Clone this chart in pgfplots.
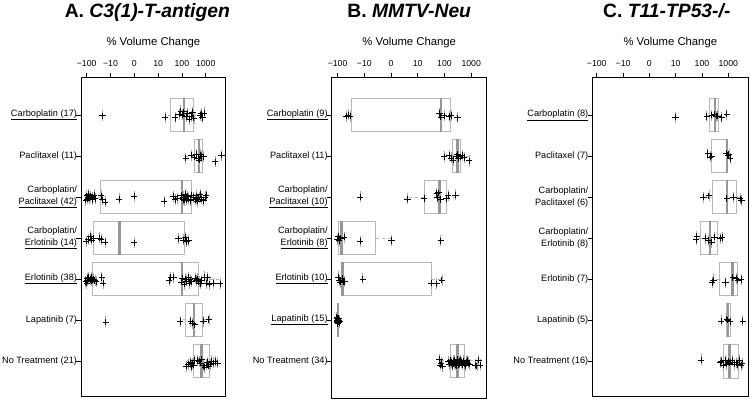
\documentclass[border=0pt]{standalone}
\usepackage{fontspec}
\setmainfont{Liberation Sans}
\usepackage{pgfplots}
\pgfplotsset{compat=1.18}
\usepackage{pgfplotstable}
\usepgfplotslibrary{statistics}
\definecolor{boxgray}{RGB}{185,185,185}
\definecolor{medgray}{RGB}{150,150,150}
\definecolor{jitgray}{RGB}{165,165,165}

\pgfplotstableread{
x y
-1.33 1.02
1.29 1.05
1.71 1.06
1.89 0.98
1.95 0.90
2.00 1.00
2.07 0.92
2.17 1.04
2.24 0.96
2.31 1.10
2.38 1.03
2.45 0.94
2.50 1.08
2.76 1.01
2.80 0.97
2.86 1.06
2.93 0.95
2.16 2.05
2.41 1.98
2.52 2.03
2.62 1.96
2.68 2.06
2.72 2.10
2.76 1.97
2.80 2.01
2.90 2.02
3.39 2.14
3.67 1.98
-2.04 3.08
-2.00 2.97
-1.97 3.05
-1.95 3.00
-1.93 2.93
-1.89 3.03
-1.83 2.98
-1.78 3.06
-1.75 3.01
-1.69 2.95
-1.65 3.04
-1.40 2.97
-1.33 3.07
-1.23 3.12
-0.64 3.05
-0.01 2.98
1.26 3.10
1.64 2.99
1.71 3.06
1.81 3.03
1.99 2.96
2.04 3.06
2.07 3.00
2.10 3.08
2.14 2.94
2.17 3.03
2.20 3.07
2.24 2.98
2.28 3.05
2.35 3.09
2.41 2.95
2.48 3.01
2.55 3.07
2.59 2.97
2.62 3.04
2.65 3.10
2.71 3.02
2.76 2.94
2.83 3.05
2.90 3.09
2.97 3.00
3.01 2.96
-2.03 4.08
-1.93 4.04
-1.86 3.97
-1.79 4.05
-1.72 4.01
-1.47 4.00
-1.40 4.04
-1.23 4.10
-0.01 4.12
1.85 4.02
2.06 4.05
2.13 3.99
2.20 4.09
2.27 4.06
-2.04 5.06
-2.00 5.10
-1.98 4.98
-1.96 5.03
-1.92 4.96
-1.86 5.01
-1.82 5.05
-1.80 4.97
-1.76 5.02
-1.72 5.00
-1.66 5.04
-1.61 5.07
-1.37 4.97
-1.32 5.10
1.46 5.04
1.53 4.97
1.64 4.96
1.99 5.08
2.03 4.98
2.09 5.13
2.14 5.00
2.20 5.05
2.27 4.97
2.30 5.10
2.34 5.02
2.41 5.07
2.55 4.98
2.59 5.04
2.65 5.00
2.71 5.06
2.76 5.12
2.82 5.03
2.93 4.95
3.01 5.10
3.07 4.97
3.15 5.13
3.32 5.10
3.60 5.12
-1.20 6.05
1.92 6.04
2.37 6.03
2.44 6.08
2.54 6.12
2.90 6.03
3.13 5.99
2.20 7.13
2.27 7.08
2.34 7.03
2.38 7.14
2.42 7.06
2.48 7.10
2.52 6.99
2.65 6.98
2.72 7.01
2.76 7.05
2.83 6.96
2.90 7.12
2.96 7.15
3.01 7.10
3.07 7.04
3.13 7.13
3.18 7.08
3.25 7.00
3.32 7.05
3.39 7.02
3.49 7.05
}\dataA

\pgfplotstableread{
x y
-1.66 1.03
-1.60 1.00
-1.54 1.03
1.81 0.97
1.86 1.05
1.98 1.02
2.17 1.04
2.24 1.01
2.48 1.07
1.98 2.02
2.17 1.98
2.24 2.05
2.33 2.10
2.43 2.00
2.48 1.97
2.53 2.06
2.58 2.02
2.66 1.99
2.74 2.04
2.92 2.12
-1.16 3.00
0.61 3.05
1.24 3.04
1.71 2.92
1.74 3.02
1.78 2.90
1.86 3.06
2.08 3.04
2.14 2.96
2.42 2.95
-2.01 4.03
-1.98 3.97
-1.94 4.06
-1.89 4.00
-1.76 3.98
-1.16 4.08
0.02 4.06
1.86 4.07
-1.98 4.95
-1.94 5.04
-1.89 5.08
-1.84 4.98
-1.79 5.06
-1.73 5.07
-1.06 5.00
1.52 5.10
1.71 5.12
1.90 5.03
-2.03 5.94
-2.02 6.02
-2.01 6.07
-2.00 5.97
-2.00 6.04
-1.99 6.00
-1.99 6.09
-1.98 5.99
-1.98 6.05
-1.97 6.03
-1.97 5.96
-1.96 6.01
-1.95 6.06
-1.94 6.02
-1.93 6.04
1.81 6.97
1.84 7.10
1.88 7.05
1.93 7.13
2.13 7.02
2.18 7.08
2.21 6.99
2.25 7.04
2.28 7.11
2.32 7.00
2.35 7.06
2.38 6.98
2.41 7.09
2.44 7.03
2.46 7.12
2.47 6.97
2.49 7.05
2.51 7.10
2.54 7.01
2.57 7.07
2.60 6.98
2.63 7.04
2.66 7.09
2.70 7.00
2.73 7.06
2.77 7.11
2.80 7.02
2.84 6.99
2.88 7.05
2.93 7.08
3.15 7.10
3.21 7.12
3.28 6.98
3.33 7.10
}\dataB

\pgfplotstableread{
x y
1.00 1.05
2.18 1.04
2.37 1.00
2.47 0.98
2.54 1.03
2.59 1.02
2.75 1.06
2.94 0.98
2.22 1.94
2.31 2.02
2.37 2.00
2.92 1.93
2.98 1.98
3.02 1.96
3.07 2.06
2.05 3.00
2.26 2.97
2.94 3.03
3.19 3.00
3.45 3.04
3.50 3.08
1.78 4.04
1.80 3.96
2.12 4.00
2.24 4.06
2.37 4.10
2.47 3.98
2.69 4.00
2.76 3.99
2.38 5.08
2.43 5.02
2.89 5.08
3.17 4.96
3.30 4.98
3.36 5.02
3.48 5.01
2.73 6.02
2.94 5.97
2.98 6.00
3.07 6.03
3.55 6.02
1.97 6.97
2.69 7.04
2.73 7.00
2.81 7.10
2.89 6.98
2.94 7.07
2.99 7.00
3.04 7.05
3.09 7.02
3.14 6.98
3.22 7.07
3.30 7.04
3.35 7.08
3.42 6.97
3.48 7.10
3.53 7.05
}\dataC

\newcommand{\bx}[6]{\addplot[boxplot prepared={lower whisker=#1, lower quartile=#2, median=#3, upper quartile=#4, upper whisker=#5, draw position=#6}] coordinates {};}

\pgfplotsset{
  panel/.style={
    scale only axis,
    y dir=reverse,
    ymin=0.08,
    xtick={-2,-1,0,1,2,3},
    xticklabels={−100,−10,0,10,100,1000},
    xtick pos=right, xticklabel pos=right,
    ytick={1,2,3,4,5,6,7},
    ytick pos=left, yticklabel pos=left,
    tick align=outside,
    major tick length=4.5pt,
    tick style={black, line width=0.6pt},
    axis line style={black, line width=0.9pt},
    xticklabel style={font=\fontsize{8.7}{10}\selectfont, yshift=3pt},
    yticklabel style={font=\fontsize{9.2}{11.5}\selectfont, align=right, xshift=4pt},
    xlabel={\% Volume Change},
    xlabel style={font=\fontsize{11.3}{13}\selectfont, at={(0.5,1)}, anchor=base, yshift=32pt},
    title style={font=\fontsize{19.3}{21}\selectfont\bfseries, at={(0.5,1)}, anchor=base, yshift=54pt},
    boxplot/draw direction=x,
    boxplot/box extend=0.82,
    boxplot/whisker extend=0,
    boxplot/every box/.style={draw=boxgray, line width=0.9pt},
    boxplot/every median/.style={draw=medgray, line width=2.4pt},
    boxplot/every whisker/.style={draw=boxgray, dashed, line width=0.8pt},
  },
  jit/.style={only marks, mark=|, mark size=5.5pt, draw=jitgray, mark options={line width=0.6pt}},
  pts/.style={only marks, mark=+, mark size=3.2pt, draw=black, mark options={line width=0.7pt}},
}

\begin{document}
\begin{tikzpicture}
\useasboundingbox (0,0) rectangle (750pt,402pt);

\begin{axis}[panel, at={(81pt,5.5pt)}, anchor=south west, width=144.7pt, height=319.2pt,
  xmin=-2.24, xmax=3.84, ymax=7.87,
  title={A. \textit{C3(1)-T-antigen}}, title style={xshift=-6pt},
  yticklabels={{\underline{Carboplatin (17)}}, {Paclitaxel (11)}, {Carboplatin/\\\underline{Paclitaxel (42)}}, {Carboplatin/\\\underline{Erlotinib (14)}}, {\underline{Erlotinib (38)}}, {Lapatinib (7)}, {No Treatment (21)}}]
\bx{1.29}{1.53}{2.08}{2.48}{2.93}{1}
\bx{2.16}{2.52}{2.71}{2.86}{2.90}{2}
\bx{-2.04}{-1.41}{2.00}{2.38}{3.01}{3}
\bx{-2.03}{-1.72}{-0.63}{2.09}{2.27}{4}
\bx{-2.04}{-1.75}{2.00}{2.69}{3.60}{5}
\bx{1.92}{2.16}{2.52}{2.87}{3.13}{6}
\bx{2.20}{2.48}{2.83}{3.15}{3.49}{7}
\addplot[jit] table {\dataA};
\addplot[pts] table {\dataA};
\end{axis}

\begin{axis}[panel, at={(331.7pt,3.8pt)}, anchor=south west, width=155pt, height=321pt,
  xmin=-2.22, xmax=3.58, ymax=7.91,
  title={B. \textit{MMTV-Neu}},
  yticklabels={{\underline{Carboplatin (9)}}, {Paclitaxel (11)}, {Carboplatin/\\\underline{Paclitaxel (10)}}, {Carboplatin/\\\underline{Erlotinib (8)}}, {\underline{Erlotinib (10)}}, {\underline{Lapatinib (15)}}, {No Treatment (34)}}]
\bx{-1.66}{-1.48}{1.86}{2.21}{2.48}{1}
\bx{1.98}{2.29}{2.48}{2.58}{2.92}{2}
\bx{0.61}{1.24}{1.81}{2.08}{2.42}{3}
\bx{-2.01}{-1.98}{-1.85}{-0.57}{0.02}{4}
\bx{-1.98}{-1.85}{-1.81}{1.52}{1.90}{5}
\bx{-2.03}{-2.00}{-1.99}{-1.97}{-1.93}{6}
\bx{1.81}{2.21}{2.49}{2.73}{3.36}{7}
\addplot[jit] table {\dataB};
\addplot[pts] table {\dataB};
\end{axis}

\begin{axis}[panel, at={(592.3pt,6pt)}, anchor=south west, width=156pt, height=318.7pt,
  xmin=-2.17, xmax=3.76, ymax=7.85,
  title={C. \textit{T11-TP53-/-}}, title style={xshift=-3.5pt},
  yticklabels={{\underline{Carboplatin (8)}}, {Paclitaxel (7)}, {Carboplatin/\\Paclitaxel (6)}, {Carboplatin/\\Erlotinib (8)}, {Erlotinib (7)}, {Lapatinib (5)}, {No Treatment (16)}}]
\bx{2.18}{2.28}{2.50}{2.64}{2.94}{1}
\bx{2.22}{2.37}{2.94}{2.98}{3.07}{2}
\bx{2.05}{2.41}{2.94}{3.32}{3.50}{3}
\bx{1.78}{1.95}{2.31}{2.59}{2.76}{4}
\bx{2.38}{2.66}{3.16}{3.35}{3.48}{5}
\bx{2.94}{2.94}{2.98}{3.07}{3.07}{6}
\bx{2.69}{2.81}{3.04}{3.38}{3.53}{7}
\addplot[jit] table {\dataC};
\addplot[pts] table {\dataC};
\end{axis}
\end{tikzpicture}
\end{document}
